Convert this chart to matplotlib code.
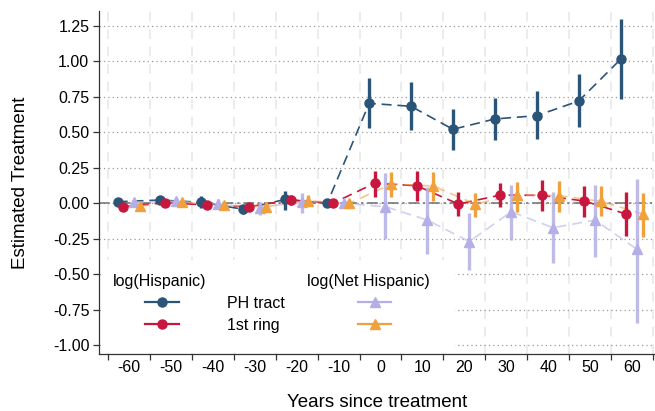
import matplotlib
matplotlib.use("Agg")
import matplotlib.pyplot as plt
from matplotlib.lines import Line2D
from matplotlib.patches import Rectangle
from matplotlib.ticker import FixedLocator, FormatStrFormatter
import numpy as np

plt.rcParams['font.family'] = ['Liberation Sans', 'DejaVu Sans']

periods = [-60, -50, -40, -30, -20, -10, 0, 10, 20, 30, 40, 50, 60]

ph_est = [0.011, 0.023, 0.007, -0.042, 0.028, 0.0, 0.704, 0.683, 0.521, 0.594, 0.617, 0.720, 1.014]
ph_lo = [-0.004, 0.008, -0.035, -0.077, -0.047, 0.0, 0.528, 0.516, 0.375, 0.446, 0.451, 0.535, 0.734]
ph_hi = [0.026, 0.038, 0.051, -0.012, 0.089, 0.0, 0.880, 0.856, 0.664, 0.739, 0.791, 0.910, 1.296]

r1_est = [-0.024, 0.005, -0.012, -0.024, 0.023, 0.0, 0.141, 0.124, -0.005, 0.058, 0.056, 0.016, -0.075]
r1_lo = [-0.049, -0.010, -0.027, -0.044, -0.012, 0.0, 0.047, 0.018, -0.090, -0.028, -0.052, -0.099, -0.230]
r1_hi = [0.001, 0.020, 0.003, -0.004, 0.058, 0.0, 0.230, 0.230, 0.080, 0.141, 0.164, 0.122, 0.080]

net_ph_est = [0.007, 0.016, -0.007, -0.031, 0.011, 0.0, -0.024, -0.118, -0.270, -0.059, -0.172, -0.118, -0.324]
net_ph_lo = [-0.018, -0.004, -0.042, -0.082, -0.070, 0.0, -0.254, -0.357, -0.470, -0.258, -0.423, -0.376, -0.840]
net_ph_hi = [0.032, 0.036, 0.028, 0.011, 0.070, 0.0, 0.210, 0.113, -0.070, 0.129, 0.077, 0.129, 0.169]

net_r1_est = [-0.019, 0.007, -0.012, -0.024, 0.018, 0.0, 0.136, 0.122, -0.005, 0.058, 0.054, 0.014, -0.075]
net_r1_lo = [-0.044, -0.013, -0.032, -0.054, -0.022, 0.0, 0.047, 0.018, -0.094, -0.059, -0.059, -0.090, -0.235]
net_r1_hi = [0.006, 0.027, 0.008, 0.006, 0.058, 0.0, 0.220, 0.220, 0.075, 0.152, 0.159, 0.122, 0.075]

yticks = [1.25, 1.00, 0.75, 0.50, 0.25, 0.00, -0.25, -0.50, -0.75, -1.00]

col_blue = '#2b5479'
col_red = '#c8173f'
col_lav = '#b4afe6'
col_org = '#f0a13c'

fig = plt.figure(figsize=(6.55, 4.11), dpi=100)
ax = fig.add_axes([99/655, 1 - 354/411, 556/655, 343/411])

idx = np.arange(len(periods))

series = [
    (ph_est, ph_lo, ph_hi, -0.27, col_blue, 'o', 1.0, 1.0),
    (r1_est, r1_lo, r1_hi, -0.14, col_red, 'o', 1.0, 1.0),
    (net_ph_est, net_ph_lo, net_ph_hi, 0.12, col_lav, '^', 0.85, 0.6),
    (net_r1_est, net_r1_lo, net_r1_hi, 0.26, col_org, '^', 1.0, 0.6),
]

ax.axhline(0, color='#6e6e6e', lw=1.1, dashes=(7, 2.5, 1.5, 2.5), zorder=2)

for est, lo, hi, off, c, mk, ealpha, lalpha in series:
    x = idx + off
    est = np.array(est); lo = np.array(lo); hi = np.array(hi)
    ax.plot(x, est, color=c, lw=1.2, ls=(0, (6, 3.5)), alpha=lalpha, zorder=3)
    ax.vlines(x, lo, hi, color=c, lw=2.4, alpha=ealpha, zorder=4)
    ax.plot(x, est, ls='none', marker=mk, ms=6.5 if mk == 'o' else 7, color=c,
            mec=c, zorder=5)

ax.set_xlim(-0.715, 12.55)
ax.set_ylim(-1.061, 1.354)

ax.set_xticks(idx)
ax.set_xticklabels([str(p) for p in periods])
ax.xaxis.set_minor_locator(FixedLocator(np.arange(-0.5, 13.0, 1.0)))
ax.tick_params(axis='x', which='major', length=0, pad=4, labelsize=11.5)
ax.tick_params(axis='x', which='minor', length=4, width=0.9, color='#333333')
ax.set_yticks(yticks)
ax.yaxis.set_major_formatter(FormatStrFormatter('%.2f'))
ax.tick_params(axis='y', which='major', length=4, width=0.9, color='#333333', pad=3, labelsize=11.5)

ax.grid(axis='y', which='major', color='#9a9a9a', ls=(0, (1, 2.5)), lw=0.9, zorder=0)
ax.grid(axis='x', which='minor', color='#ececec', ls=(0, (5, 4)), lw=1.4, zorder=0)
ax.set_axisbelow(True)

for s in ['top', 'right']:
    ax.spines[s].set_visible(False)
for s in ['left', 'bottom']:
    ax.spines[s].set_color('#333333')
    ax.spines[s].set_linewidth(0.9)

ax.set_ylabel('Estimated Treatment', fontsize=13.5, labelpad=17)
ax.set_xlabel('Years since treatment', fontsize=13.5, labelpad=14)

# legend background
ax.add_patch(Rectangle((0.007, 0.003), 0.633, 0.272, transform=ax.transAxes,
                       facecolor='white', edgecolor='none', zorder=6))
ax.text(0.0246, 0.211, 'log(Hispanic)', transform=ax.transAxes, fontsize=11.5,
        ha='left', va='center', zorder=7)
ax.text(0.3736, 0.211, 'log(Net Hispanic)', transform=ax.transAxes, fontsize=11.5,
        ha='left', va='center', zorder=7)

handles = [
    Line2D([], [], color=col_blue, marker='o', ms=6.5, lw=1.6),
    Line2D([], [], color=col_red, marker='o', ms=6.5, lw=1.6),
    Line2D([], [], color=col_lav, marker='^', ms=6.5, lw=1.6),
    Line2D([], [], color=col_org, marker='^', ms=6.5, lw=1.6),
]
labels = ['PH tract', '1st ring', '', '']
leg = ax.legend(handles, labels, ncol=2, frameon=False, fontsize=11.5,
                handlelength=2.1, handletextpad=3.0, columnspacing=4.6,
                labelspacing=0.45, loc='upper left',
                bbox_to_anchor=(0.083, 0.17), borderaxespad=0, borderpad=0)
leg.set_zorder(8)

fig.savefig('out.png', dpi=100)
